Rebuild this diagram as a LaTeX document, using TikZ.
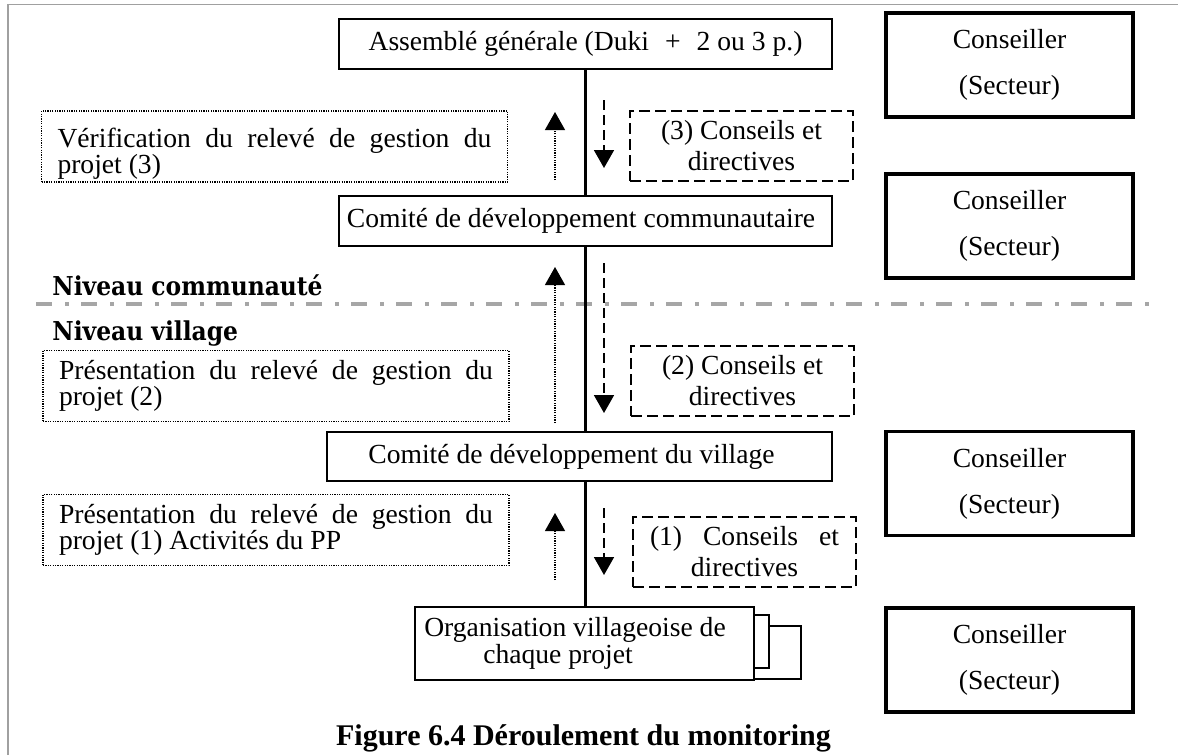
\documentclass[tikz,border=0pt]{standalone}
\usepackage{fontspec}
\setmainfont{Liberation Serif}
\newfontfamily\levelfont{DejaVu Serif Condensed}
\usetikzlibrary{arrows.meta,positioning}

\definecolor{framegray}{RGB}{160,160,160}
\definecolor{levelgray}{RGB}{166,166,166}

\tikzstyle{orgbox} = [rectangle, draw, line width=1pt, fill=white, align=center,
    inner sep=2pt, font=\fontsize{13.8}{13.5}\selectfont]
\tikzstyle{advisor} = [rectangle, draw, line width=1.6pt, align=center,
    minimum width=123.5pt, minimum height=52pt, font=\fontsize{13.8}{23}\selectfont]
\tikzstyle{report} = [rectangle, draw, line width=0.6pt, dash pattern=on 0.6pt off 0.6pt,
    text width=217pt, align=justify, inner xsep=8pt, inner ysep=1pt,
    minimum height=35.5pt, font=\fontsize{13.8}{13}\selectfont]
\tikzstyle{advice} = [rectangle, draw, line width=0.9pt, dash pattern=on 5.5pt off 2.5pt,
    align=center, inner ysep=2pt, minimum width=111.5pt, minimum height=35pt,
    font=\fontsize{13.8}{15.5}\selectfont]
\tikzstyle{upflow} = [->, line width=0.6pt, dash pattern=on 0.6pt off 0.6pt]
\tikzstyle{downflow} = [->, line width=0.9pt, dash pattern=on 5pt off 2.5pt]
\tikzstyle{level} = [anchor=base west, inner sep=0pt,
    font=\levelfont\bfseries\fontsize{13}{15}\selectfont]

\begin{document}
\begin{tikzpicture}[x=0.5pt,y=-0.5pt,>={Triangle[width=10pt,length=9pt]}]
  \useasboundingbox (0,0) rectangle (1178,755);

  % page frame and level separator
  \draw[framegray, line width=0.9pt] (7.7,755) -- (7.7,4.5) -- (1178,4.5);
  \draw[levelgray, line width=1.8pt, dash pattern=on 8pt off 6.5pt on 2pt off 6pt]
    (36,304) -- (1154,304);

  % main chain
  \node[orgbox, minimum width=246.5pt, minimum height=25pt] (AG)  at (585.5,44)
    {Assemblé générale (Duki\hspace{8pt}+\hspace{8pt}2 ou 3 p.)};
  \node[orgbox, minimum width=246.5pt, minimum height=25pt] (CDC) at (585.5,221)
    {Comité de développement communautaire\hspace*{4.5pt}};
  \node[orgbox, minimum width=252.5pt, minimum height=24.5pt] (CDV) at (579.5,456.5)
    {Comité de développement du village\hspace*{8pt}};

  \draw[line width=1pt, fill=white] (740,626) rectangle (801,679);
  \draw[line width=1pt, fill=white] (740,615) rectangle (769,668);
  \node[orgbox, minimum width=169.5pt, minimum height=36.5pt] (OV) at (584.5,643.5)
    {Organisation villageoise de\hspace*{9.5pt}\\chaque projet\hspace*{26.5pt}};

  \draw[line width=1.2pt] (AG.south) -- (AG.south |- CDC.north);
  \draw[line width=1.2pt] (CDC.south) -- (CDC.south |- CDV.north);
  \draw[line width=1.2pt] (CDC.south |- CDV.south) -- (CDC.south |- OV.north);

  % advisers
  \node[advisor] (C1) at (1009.5,65)    {Conseiller\\(Secteur)};
  \node[advisor] (C2) at (1009.5,226)   {Conseiller\\(Secteur)};
  \node[advisor] (C3) at (1009.5,483.5) {Conseiller\\(Secteur)};
  \node[advisor] (C4) at (1009.5,660)   {Conseiller\\(Secteur)};

  % reports going up
  \node[report] (R3) at (274.5,146.5)
    {\rule{0pt}{17pt}Vérification du relevé de gestion du projet (3)};
  \node[report] (R2) at (276,386)
    {Présentation du relevé de gestion du projet (2)};
  \node[report] (R1) at (276,530)
    {Présentation du relevé de gestion du projet (1) Activités du PP};

  % advice going down
  \node[advice] (A3) at (741.5,146) {(3) Conseils et\\directives};
  \node[advice] (A2) at (742.5,381) {(2) Conseils et\\directives};
  \node[advice] (A1) at (744.5,552) {\makebox[94.5pt][s]{(1) Conseils et}\\directives};

  % flow arrows
  \coordinate (U3a) at (555,180); \coordinate (U3b) at (555,112);
  \coordinate (U2a) at (555,423); \coordinate (U2b) at (555,267);
  \coordinate (U1a) at (555,580); \coordinate (U1b) at (555,513);
  \coordinate (D3a) at (604,100); \coordinate (D3b) at (604,168);
  \coordinate (D2a) at (604,263); \coordinate (D2b) at (604,413);
  \coordinate (D1a) at (604,508); \coordinate (D1b) at (604,575);

  \draw[upflow] (U3a) -- (U3b);
  \draw[upflow] (U2a) -- (U2b);
  \draw[upflow] (U1a) -- (U1b);
  \draw[downflow] (D3a) -- (D3b);
  \draw[downflow] (D2a) -- (D2b);
  \draw[downflow] (D1a) -- (D1b);

  % level labels and caption
  \node[level] (LC) at (52,295) {Niveau communauté};
  \node[level] (LV) at (52,340) {Niveau village};
  \node[anchor=base, inner sep=0pt, font=\bfseries\fontsize{15}{18}\selectfont] (cap)
    at (583.5,745) {Figure 6.4 Déroulement du monitoring};
\end{tikzpicture}
\end{document}
